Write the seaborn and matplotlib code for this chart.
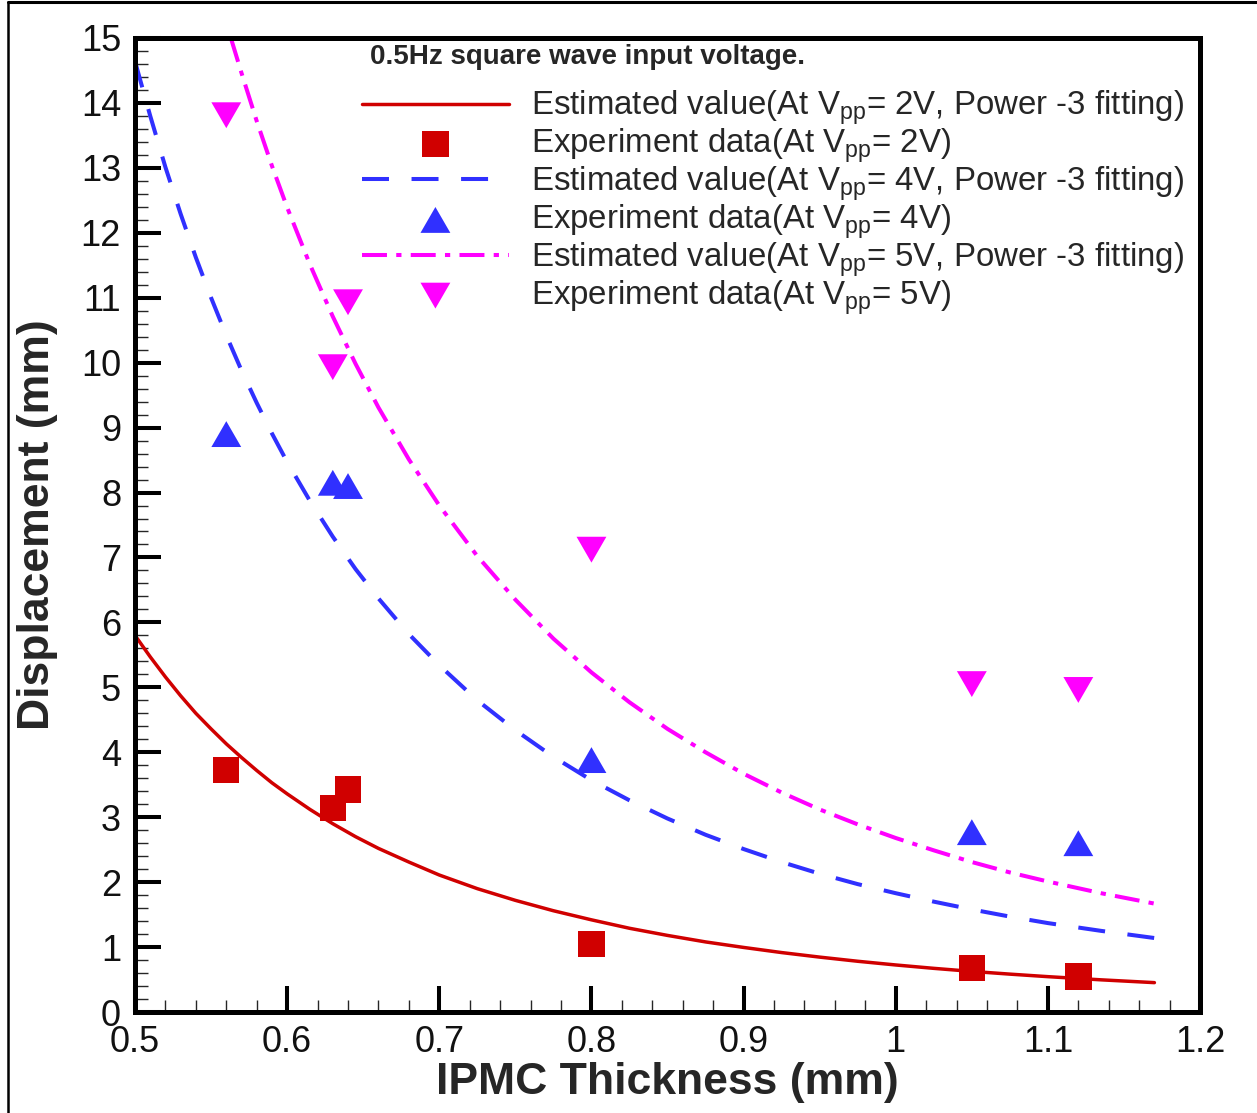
import seaborn as sns
import matplotlib.pyplot as plt
import numpy as np
import pandas as pd
from matplotlib.ticker import MultipleLocator, FuncFormatter
from matplotlib.lines import Line2D

sns.set_style("ticks")
plt.rcParams['font.family'] = ['Liberation Sans', 'DejaVu Sans']
plt.rcParams['mathtext.fontset'] = 'custom'
plt.rcParams['mathtext.rm'] = 'Liberation Sans'
plt.rcParams['mathtext.it'] = 'Liberation Sans'

# measured points (thickness in mm, displacement in mm)
thickness = [0.56, 0.63, 0.64, 0.80, 1.05, 1.12]
exp_2v = [3.73, 3.14, 3.43, 1.05, 0.68, 0.55]
exp_4v = [8.90, 8.15, 8.10, 3.88, 2.77, 2.60]
exp_5v = [13.81, 9.93, 10.93, 7.12, 5.05, 4.96]

# fitted curves
fit_x = [0.50, 0.51, 0.52, 0.53, 0.54, 0.55, 0.56, 0.57, 0.58, 0.59,
         0.60, 0.615, 0.63, 0.645, 0.66, 0.68, 0.70, 0.725, 0.75, 0.775,
         0.80, 0.825, 0.85, 0.875, 0.90, 0.925, 0.95, 0.975, 1.00, 1.025,
         1.05, 1.075, 1.10, 1.135, 1.17]
fit_2v = [5.80, 5.47, 5.16, 4.87, 4.60, 4.36, 4.13, 3.92, 3.72, 3.53,
          3.36, 3.12, 2.90, 2.70, 2.52, 2.31, 2.11, 1.90, 1.72, 1.56,
          1.42, 1.29, 1.18, 1.08, 0.995, 0.916, 0.846, 0.782, 0.725, 0.673,
          0.626, 0.584, 0.545, 0.496, 0.453]
fit_4v = [14.64, 13.80, 13.01, 12.29, 11.62, 11.00, 10.42, 9.88, 9.38, 8.91,
          8.47, 7.87, 7.32, 6.82, 6.37, 5.82, 5.34, 4.80, 4.34, 3.93,
          3.57, 3.26, 2.98, 2.73, 2.51, 2.31, 2.13, 1.97, 1.83, 1.70,
          1.58, 1.47, 1.37, 1.25, 1.14]
fit5_x = [0.563, 0.57, 0.58, 0.59, 0.60, 0.615, 0.63, 0.645, 0.66, 0.68,
          0.70, 0.725, 0.75, 0.775, 0.80, 0.825, 0.85, 0.875, 0.90, 0.925,
          0.95, 0.975, 1.00, 1.025, 1.05, 1.075, 1.10, 1.135, 1.17]
fit_5v = [15.00, 14.46, 13.72, 13.03, 12.39, 11.51, 10.71, 9.98, 9.31, 8.51,
          7.80, 7.02, 6.35, 5.75, 5.23, 4.77, 4.36, 4.00, 3.67, 3.38,
          3.12, 2.89, 2.68, 2.49, 2.31, 2.15, 2.01, 1.83, 1.67]

RED = '#D00000'
BLUE = '#3030FF'
MAGENTA = '#FF00FF'

tri_up = [(-1, -0.866), (1, -0.866), (0, 0.866)]
tri_down = [(-1, 0.866), (1, 0.866), (0, -0.866)]

fig = plt.figure(figsize=(12.57, 11.13), dpi=100)
ax = fig.add_axes([0.1074, 0.0907, 0.8473, 0.8752])

sns.lineplot(x=fit_x, y=fit_2v, ax=ax, color=RED, lw=2.5,
             label='Estimated value(At V$_{pp}$= 2V, Power -3 fitting)')
sns.lineplot(x=fit_x, y=fit_4v, ax=ax, color=BLUE, lw=2.9,
             linestyle=(0, (6.7, 5.6)),
             label='Estimated value(At V$_{pp}$= 4V, Power -3 fitting)')
sns.lineplot(x=fit5_x, y=fit_5v, ax=ax, color=MAGENTA, lw=2.9,
             linestyle=(0, (6.2, 2.3, 1.3, 2.3)),
             label='Estimated value(At V$_{pp}$= 5V, Power -3 fitting)')

sns.scatterplot(x=thickness, y=exp_2v, ax=ax, marker='s', s=19**2,
                color=RED, edgecolor='none', linewidth=0, legend=False,
                label='Experiment data(At V$_{pp}$= 2V)', zorder=3)
sns.scatterplot(x=thickness, y=exp_4v, ax=ax, marker=tri_up, s=21.5**2,
                color=BLUE, edgecolor='none', linewidth=0, legend=False,
                label='Experiment data(At V$_{pp}$= 4V)', zorder=3)
sns.scatterplot(x=thickness, y=exp_5v, ax=ax, marker=tri_down, s=21.5**2,
                color=MAGENTA, edgecolor='none', linewidth=0, legend=False,
                label='Experiment data(At V$_{pp}$= 5V)', zorder=3)

ax.set_xlim(0.5, 1.2)
ax.set_ylim(0, 15)
ax.xaxis.set_major_locator(MultipleLocator(0.1))
ax.xaxis.set_minor_locator(MultipleLocator(0.02))
ax.yaxis.set_major_locator(MultipleLocator(1))
ax.yaxis.set_minor_locator(MultipleLocator(0.2))
ax.xaxis.set_major_formatter(FuncFormatter(lambda v, p: '%g' % round(v, 2)))

for sp in ax.spines.values():
    sp.set_linewidth(3.6)
    sp.set_color('black')
    sp.set_visible(True)

ax.tick_params(which='major', direction='in', length=19, width=2.9,
               labelsize=26, color='black', labelcolor='#111111')
ax.tick_params(which='minor', direction='in', length=9, width=1.0)
ax.tick_params(axis='x', which='major', pad=9)
ax.tick_params(axis='y', which='major', pad=10)
ax.tick_params(top=False, right=False, which='both')

ax.set_xlabel('IPMC Thickness (mm)', fontsize=32, fontweight='bold')
ax.set_ylabel('Displacement (mm)', fontsize=32, fontweight='bold')
ax.xaxis.set_label_coords(0.5, -0.051)
ax.yaxis.set_label_coords(-0.072, 0.5)

handles, labels = ax.get_legend_handles_labels()
order = [labels.index(l) for l in [
    'Estimated value(At V$_{pp}$= 2V, Power -3 fitting)',
    'Experiment data(At V$_{pp}$= 2V)',
    'Estimated value(At V$_{pp}$= 4V, Power -3 fitting)',
    'Experiment data(At V$_{pp}$= 4V)',
    'Estimated value(At V$_{pp}$= 5V, Power -3 fitting)',
    'Experiment data(At V$_{pp}$= 5V)']]
leg = ax.legend([handles[i] for i in order], [labels[i] for i in order],
                loc='upper left', bbox_to_anchor=(0.213, 0.9476),
                frameon=False, fontsize=23.8, handlelength=4.45,
                handletextpad=0.67, labelspacing=-0.02, borderpad=0,
                borderaxespad=0, scatterpoints=1)

ax.text(0.2207, 0.9805, '0.5Hz square wave input voltage.',
        transform=ax.transAxes, ha='left', va='center',
        fontsize=20, fontweight='bold')

# outer frame lines (left and top)
fig.add_artist(Line2D([8 / 1257, 8 / 1257], [0, 1 - 2 / 1113],
                      transform=fig.transFigure, color='black', lw=1.8))
fig.add_artist(Line2D([8 / 1257, 1], [1 - 2 / 1113, 1 - 2 / 1113],
                      transform=fig.transFigure, color='black', lw=2.2))

plt.savefig('out.png', dpi=100)
plt.close()
